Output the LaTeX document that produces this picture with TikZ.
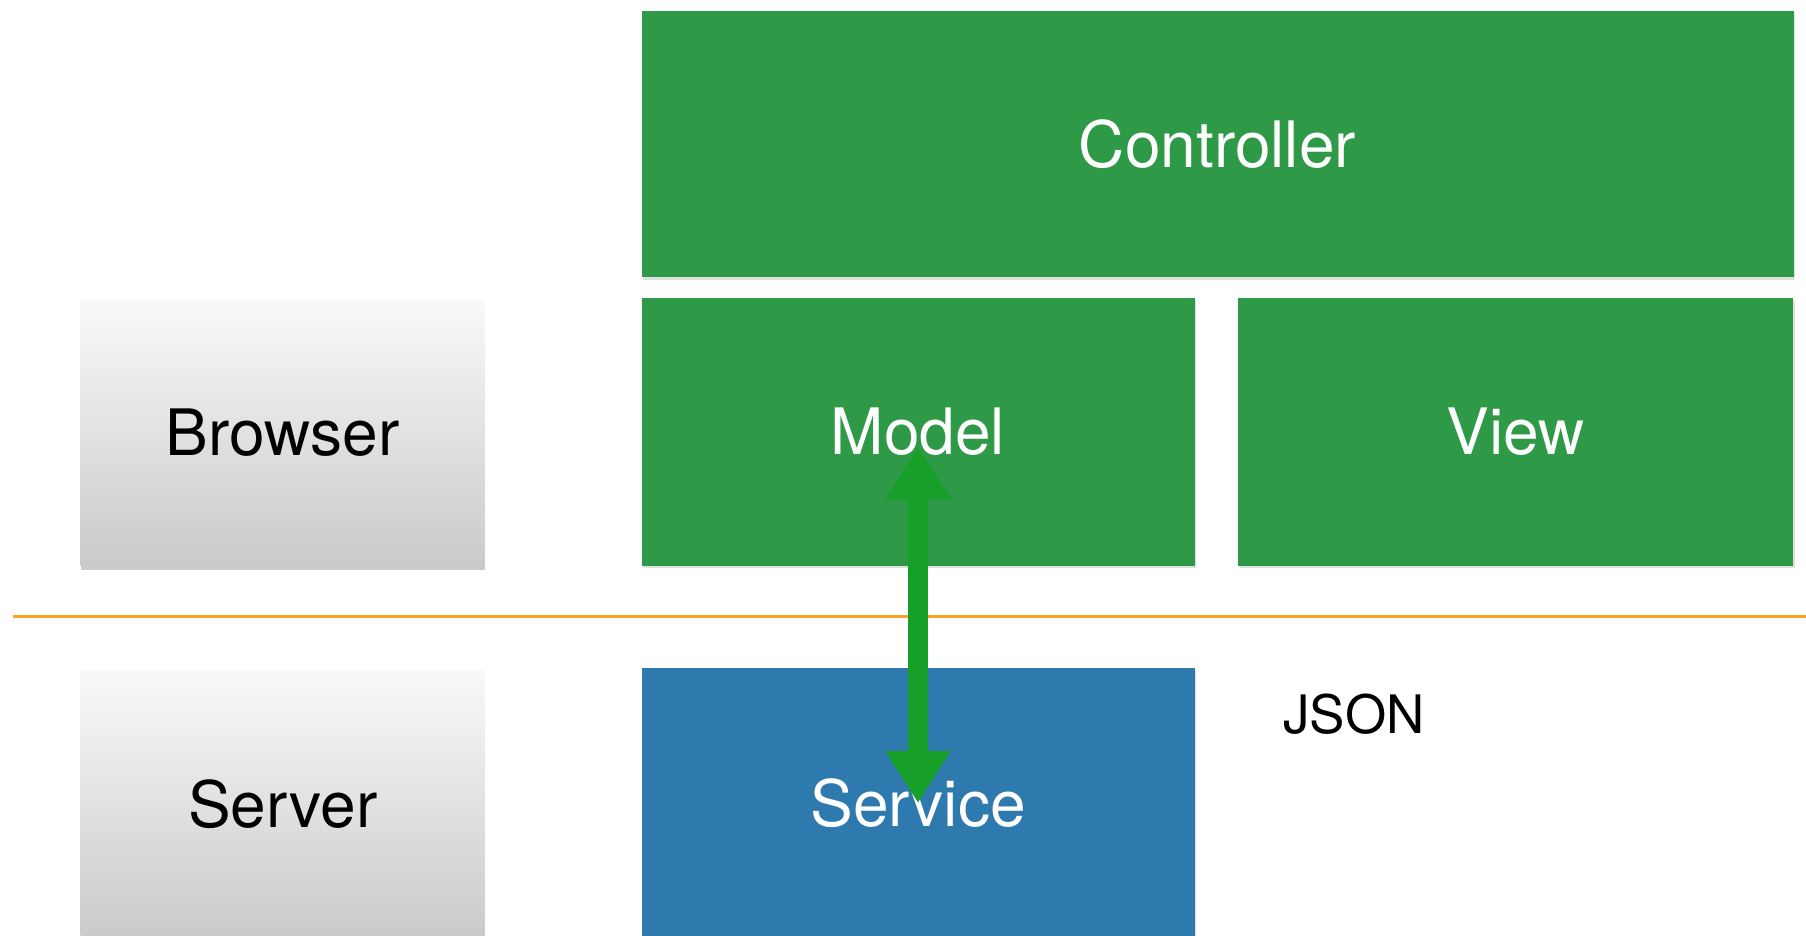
\documentclass[tikz,border=0pt]{standalone}
\usepackage{fontspec}
\setmainfont{TeX Gyre Heros}
\usetikzlibrary{arrows.meta,shadows}

\definecolor{layergreen}{RGB}{46,153,70}
\definecolor{layerblue}{RGB}{46,122,174}
\definecolor{flowgreen}{RGB}{22,160,42}
\definecolor{divider}{RGB}{245,166,35}
\definecolor{tiertop}{RGB}{249,249,249}
\definecolor{tierbottom}{RGB}{202,202,202}

\tikzset{
  layer/.style={draw=none, inner sep=0pt, text=white,
    font=\fontsize{32}{38}\selectfont,
    drop shadow={shadow xshift=0.8pt, shadow yshift=-1.2pt, opacity=0.25}},
  greenbox/.style={layer, fill=layergreen},
  bluebox/.style={layer, fill=layerblue},
  tierbox/.style={draw=none, inner sep=0pt, text=black,
    top color=tiertop, bottom color=tierbottom,
    font=\fontsize{32}{38}\selectfont,
    minimum width=202pt,
    drop shadow={shadow xshift=0pt, shadow yshift=-2pt, opacity=0.4}},
  label/.style={text=black, font=\fontsize{26.5}{32}\selectfont},
  flow/.style={draw=flowgreen, line width=10pt,
    {Triangle[width=31pt,length=26pt]}-{Triangle[width=31pt,length=26pt]}},
  rule/.style={draw=divider, line width=1.5pt}
}

\begin{document}
\begin{tikzpicture}[x=0.5pt,y=-0.5pt]
  \useasboundingbox[fill=white] (0,0) rectangle (1806,936);

  % client side layers
  \node[greenbox, minimum width=576pt, minimum height=133pt]
    (Controller) at (1217.5,144.5) {Controller};
  \node[greenbox, minimum width=276.5pt, minimum height=133.5pt]
    (Model) at (918,432) {Model};
  \node[greenbox, minimum width=277.5pt, minimum height=133.5pt]
    (View) at (1515.8,432) {View};
  \node[tierbox, minimum height=132.5pt] (Browser) at (282.7,433) {Browser};

  % split between client and server
  \coordinate (ruleL) at (12.7,616);
  \coordinate (ruleR) at (1806,616);
  \draw[rule] (ruleL) -- (ruleR);

  % server side
  \node[bluebox, minimum width=276.5pt, minimum height=135pt]
    (Service) at (918,803) {Service};
  \node[tierbox, minimum height=134pt] (Server) at (282.7,804) {Server};
  \node[label] (JSON) at (1354,714) {JSON};

  % data exchange
  \draw[flow] ([yshift=-7.5pt]Model.center) -- (Service.center);
\end{tikzpicture}
\end{document}
